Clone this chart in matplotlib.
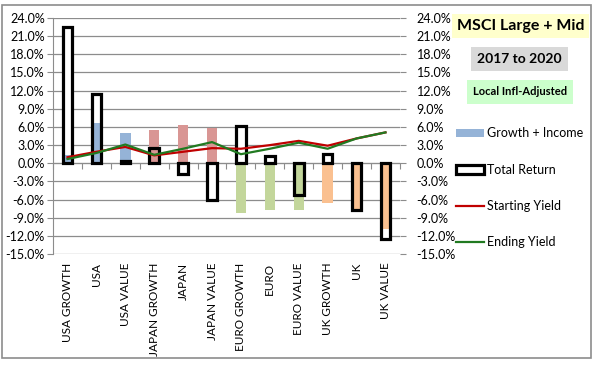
import numpy as np
import matplotlib.pyplot as plt
from matplotlib.patches import Patch, Rectangle
from matplotlib.lines import Line2D

plt.rcParams['font.family'] = ['Lato', 'DejaVu Sans']

categories = ['USA GROWTH', 'USA', 'USA VALUE', 'JAPAN GROWTH', 'JAPAN', 'JAPAN VALUE',
              'EURO GROWTH', 'EURO', 'EURO VALUE', 'UK GROWTH', 'UK', 'UK VALUE']
growth_income = [1.3, 6.6, 5.0, 5.5, 6.3, 5.9, -8.3, -7.8, -7.8, -6.5, -7.6, -10.9]
total_return = [22.5, 11.4, 0.3, 2.5, -1.7, -6.0, 6.1, 1.2, -5.2, 1.5, -7.7, -12.5]
starting_yield = [1.0, 1.9, 2.7, 1.3, 1.9, 2.5, 2.4, 3.0, 3.7, 2.9, 4.1, 5.1]
ending_yield = [0.7, 1.7, 3.1, 1.4, 2.4, 3.5, 1.5, 2.4, 3.4, 2.4, 4.1, 5.1]
region_colors = ['#95B3D7'] * 3 + ['#D99694'] * 3 + ['#C3D69B'] * 3 + ['#FAC090'] * 3

yticks = np.arange(-15, 25, 3)
x = np.arange(len(categories))
grid_col = '#8C8C8C'

fig = plt.figure(figsize=(5.96, 3.65), dpi=100)
ax = fig.add_axes([0.089, 0.304, 0.582, 0.6466])

# total return: white fill behind, outline on top
ax.bar(x, total_return, width=0.33, color='white', zorder=1)
ax.bar(x, growth_income, width=0.36, color=region_colors, zorder=2)
ax.bar(x, total_return, width=0.33, fill=False, edgecolor='black', linewidth=2.3, zorder=3)
ax.plot(x, starting_yield, color='#C00000', lw=1.6, zorder=4)
ax.plot(x, ending_yield, color='#217A21', lw=1.6, zorder=5)

ax.set_xlim(-0.5, len(categories) - 0.5)
ax.set_ylim(-15, 24)
ax.set_yticks(yticks)
ax.set_yticklabels([f'{v:.1f}%' for v in yticks], fontsize=9)
ax.yaxis.grid(True, color=grid_col, lw=0.9)
ax.set_axisbelow(True)
for s in ['top', 'right']:
    ax.spines[s].set_visible(False)
ax.spines['left'].set_color(grid_col)
ax.spines['bottom'].set_position(('data', 0))
ax.spines['bottom'].set_color(grid_col)
ax.set_xticks(np.arange(-0.5, len(categories), 1))
ax.set_xticklabels([])
ax.tick_params(axis='x', length=4, color=grid_col)
ax.tick_params(axis='y', length=4, color=grid_col, pad=2)
for i, c in enumerate(categories):
    ax.text(i, -0.036, c, rotation=90, ha='center', va='top', fontsize=8.5,
            transform=ax.get_xaxis_transform())

ax2 = ax.twinx()
ax2.set_ylim(-15, 24)
ax2.set_yticks(yticks)
ax2.set_yticklabels([f'{v:.1f}%' for v in yticks], fontsize=9)
for s in ['top', 'left', 'bottom', 'right']:
    ax2.spines[s].set_visible(False)
ax2.tick_params(axis='y', length=4, color=grid_col, pad=8)

# title boxes
fig.text(0.874, 0.928, 'MSCI Large + Mid', fontsize=11.5, fontweight='bold', ha='center', va='center',
         bbox=dict(boxstyle='square,pad=0.3', fc='#FFFFCC', ec='none'))
fig.text(0.872, 0.838, '2017 to 2020', fontsize=10, fontweight='bold', ha='center', va='center',
         bbox=dict(boxstyle='square,pad=0.45', fc='#D9D9D9', ec='none'))
fig.text(0.872, 0.748, 'Local Infl-Adjusted', fontsize=8, fontweight='bold', ha='center', va='center',
         bbox=dict(boxstyle='square,pad=0.55', fc='#CCFFCC', ec='none'))

handles = [Patch(fc='#95B3D7', ec='none'),
           Patch(fc='white', ec='black', lw=2.3),
           Line2D([], [], color='#C00000', lw=1.6),
           Line2D([], [], color='#217A21', lw=1.6)]
labels = ['Growth + Income', 'Total Return', 'Starting Yield', 'Ending Yield']
fig.legend(handles, labels, loc='upper left', bbox_to_anchor=(0.757, 0.665), frameon=False,
           fontsize=9, labelspacing=1.95, handlelength=2.2, handletextpad=0.3, borderaxespad=0)

fig.patches.append(Rectangle((0.004, 0.019), 0.987, 0.967, transform=fig.transFigure,
                             fill=False, ec='#8C8C8C', lw=1.2))

fig.savefig('out.png', dpi=100)
